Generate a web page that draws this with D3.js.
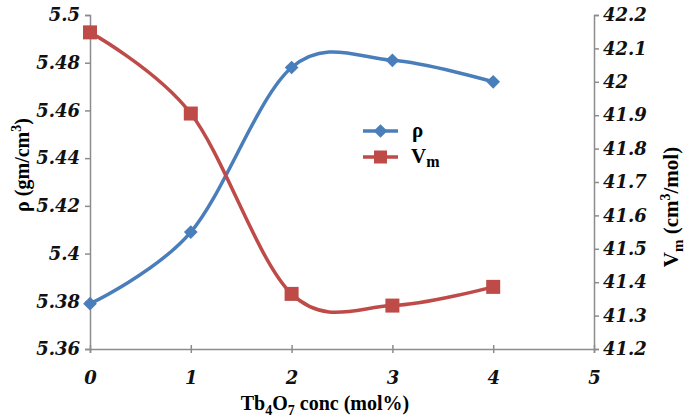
<!DOCTYPE html>
<html>
<head>
<meta charset="utf-8">
<script src="https://cdn.jsdelivr.net/npm/d3@7"></script>
<style>
  body { margin: 0; background: #fff; }
  svg text { font-family: "Liberation Serif", "Times New Roman", serif; font-weight: bold; }
</style>
</head>
<body>
<svg id="chart" width="688" height="419"></svg>
<script>
// values
var conc = [0, 1, 2, 3, 4];
var rho = [5.379, 5.409, 5.478, 5.481, 5.472];
var vm = [42.148, 41.905, 41.365, 41.330, 41.386];
var xTicks = [0, 1, 2, 3, 4, 5];
var leftTicks = [5.36, 5.38, 5.4, 5.42, 5.44, 5.46, 5.48, 5.5];
var rightTicks = [41.2, 41.3, 41.4, 41.5, 41.6, 41.7, 41.8, 41.9, 42, 42.1, 42.2];

var blue = "#4a7ebb", red = "#be4b48", axisCol = "#8c8c8c";
var plotL = 90, plotR = 594, plotT = 15, plotB = 349;

var svg = d3.select("#chart");

var x = d3.scaleLinear().domain([0, 5]).range([plotL, plotR]);
var yL = d3.scaleLinear().domain([5.36, 5.5]).range([plotB, plotT]);
var yR = d3.scaleLinear().domain([41.2, 42.2]).range([plotB, plotT]);

// axes
var gx = svg.append("g").attr("transform", "translate(0," + plotB + ")")
  .call(d3.axisBottom(x).tickValues(xTicks).tickSize(4).tickFormat(d3.format("d")));
gx.selectAll(".tick line").attr("y1", -4);

var gl = svg.append("g").attr("transform", "translate(" + plotL + ",0)")
  .call(d3.axisLeft(yL).tickValues(leftTicks).tickSize(5).tickFormat(function(d) { return +d.toFixed(2); }));

var gr = svg.append("g").attr("transform", "translate(" + plotR + ",0)")
  .call(d3.axisRight(yR).tickValues(rightTicks).tickSize(5).tickFormat(function(d) { return +d.toFixed(1); }));

[gx, gl, gr].forEach(function(g) {
  g.attr("font-family", null).attr("font-size", null);
  g.select(".domain").attr("stroke", axisCol).attr("stroke-width", 1.5);
  g.selectAll(".tick line").attr("stroke", axisCol).attr("stroke-width", 1.5);
  g.selectAll(".tick text")
    .attr("fill", "#111")
    .style("font-family", "'DejaVu Serif', serif")
    .style("font-weight", "bold")
    .style("font-size", "18px")
    .style("font-style", "italic");
});
gx.selectAll(".tick text").attr("dy", 28);
gl.selectAll(".tick text").attr("x", -10);
gr.selectAll(".tick text").attr("x", 9);

// lines, Excel-like smoothing
var lineL = d3.line()
  .x(function(d, i) { return x(conc[i]); })
  .y(function(d) { return yL(d); })
  .curve(d3.curveCardinal.tension(0));
var lineR = d3.line()
  .x(function(d, i) { return x(conc[i]); })
  .y(function(d) { return yR(d); })
  .curve(d3.curveCardinal.tension(0));

svg.append("path").datum(rho).attr("d", lineL)
  .attr("fill", "none").attr("stroke", blue).attr("stroke-width", 3.5);
svg.append("path").datum(vm).attr("d", lineR)
  .attr("fill", "none").attr("stroke", red).attr("stroke-width", 3.5);

var diamond = d3.symbol().type(d3.symbolDiamond2).size(120);
svg.selectAll(".rho-pt").data(rho).enter().append("path")
  .attr("class", "rho-pt")
  .attr("transform", function(d, i) { return "translate(" + x(conc[i]) + "," + yL(d) + ")"; })
  .attr("d", diamond)
  .attr("fill", blue);

svg.selectAll(".vm-pt").data(vm).enter().append("rect")
  .attr("class", "vm-pt")
  .attr("x", function(d, i) { return x(conc[i]) - 7; })
  .attr("y", function(d) { return yR(d) - 7; })
  .attr("width", 14).attr("height", 14)
  .attr("fill", red);

// legend
var leg = svg.append("g");
leg.append("line").attr("x1", 363).attr("x2", 398).attr("y1", 131).attr("y2", 131)
  .attr("stroke", blue).attr("stroke-width", 3.5);
leg.append("path").attr("transform", "translate(380.5,131)").attr("d", diamond).attr("fill", blue);
leg.append("text").attr("x", 412).attr("y", 137).style("font-size", "21px").text("ρ");

leg.append("line").attr("x1", 363).attr("x2", 398).attr("y1", 157).attr("y2", 157)
  .attr("stroke", red).attr("stroke-width", 3.5);
leg.append("rect").attr("x", 374).attr("y", 150.5).attr("width", 13).attr("height", 13).attr("fill", red);
var vmLeg = leg.append("text").attr("x", 411).attr("y", 163).style("font-size", "21px");
vmLeg.append("tspan").text("V");
vmLeg.append("tspan").attr("dy", 4).style("font-size", "16px").text("m");

// axis titles
var xt = svg.append("text").attr("x", 325).attr("y", 410)
  .attr("text-anchor", "middle").style("font-size", "20px");
xt.append("tspan").text("Tb");
xt.append("tspan").attr("dy", 5).style("font-size", "14px").text("4");
xt.append("tspan").attr("dy", -5).text("O");
xt.append("tspan").attr("dy", 5).style("font-size", "14px").text("7");
xt.append("tspan").attr("dy", -5).text(" conc (mol%)");

var lt = svg.append("text").attr("transform", "translate(29,165) rotate(-90)")
  .attr("text-anchor", "middle").style("font-size", "20px");
lt.append("tspan").text("ρ (gm/cm");
lt.append("tspan").attr("dy", -8).style("font-size", "14px").text("3");
lt.append("tspan").attr("dy", 8).text(")");

var rt = svg.append("text").attr("transform", "translate(678,207) rotate(-90)")
  .attr("text-anchor", "middle").style("font-size", "21px");
rt.append("tspan").text("V");
rt.append("tspan").attr("dy", 5).style("font-size", "15px").text("m");
rt.append("tspan").attr("dy", -5).text(" (cm");
rt.append("tspan").attr("dy", -8).style("font-size", "14px").text("3");
rt.append("tspan").attr("dy", 8).text("/mol)");
</script>
</body>
</html>
